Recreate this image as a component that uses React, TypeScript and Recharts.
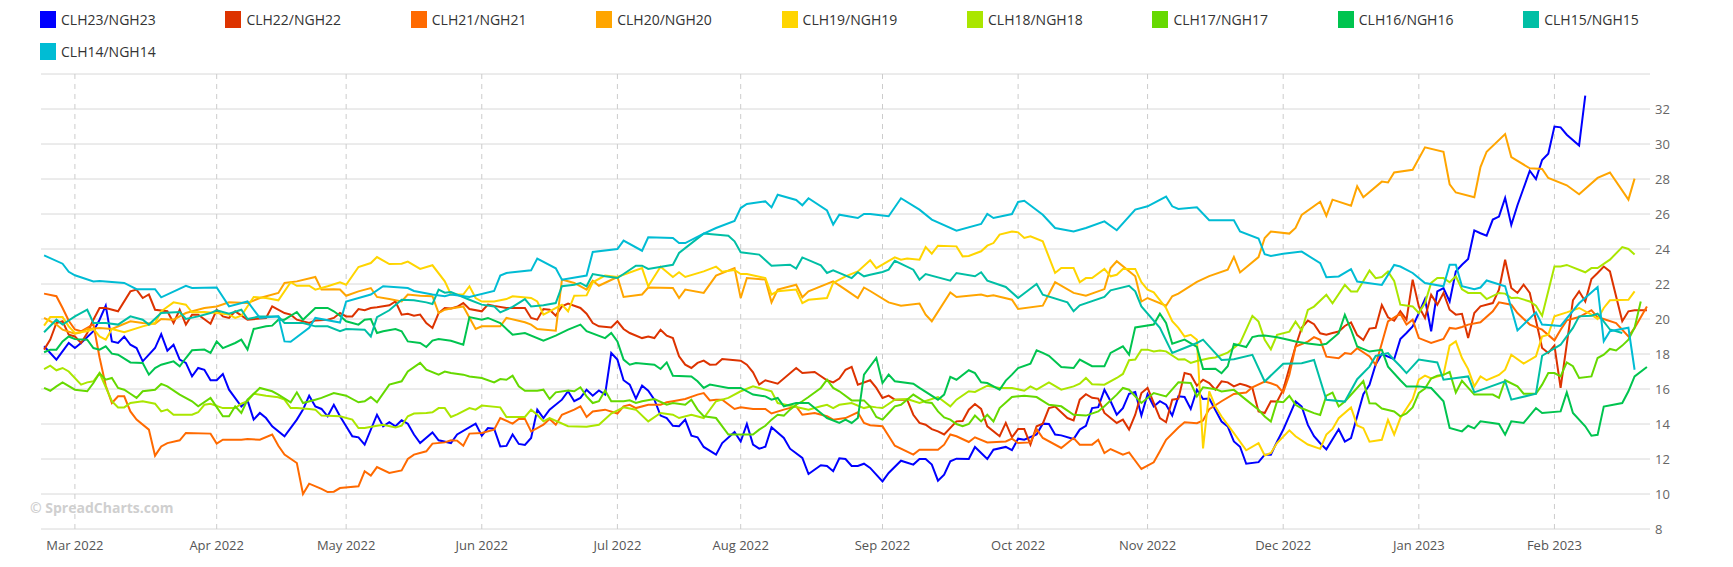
import React from 'react'
import { LineChart, Line, XAxis, YAxis, CartesianGrid } from 'recharts'

type Pt = [number, number]

// x = trading-day index, Mar 1 2022 = 0
const X_DOMAIN: [number, number] = [-5.5, 255.5]
const MONTH_TICKS = [0, 23, 44, 66, 88, 108, 131, 153, 174, 196, 218, 240]
const MONTH_LABELS = ['Mar 2022', 'Apr 2022', 'May 2022', 'Jun 2022', 'Jul 2022', 'Aug 2022', 'Sep 2022', 'Oct 2022', 'Nov 2022', 'Dec 2022', 'Jan 2023', 'Feb 2023']
const Y_TICKS = [8, 10, 12, 14, 16, 18, 20, 22, 24, 26, 28, 30, 32, 34]

const clh23: Pt[] = [[-5,18.44],[-3,17.68],[-1,18.63],[0,18.34],[1,18.63],[3,19.3],[4,19.96],[5,20.76],[6,18.72],[7,18.63],[8,19.0],[9,18.53],[10,18.34],[11,17.58],[13,18.34],[14,19.14],[15,18.19],[16,18.53],[17,17.68],[18,17.49],[19,16.72],[20,17.2],[21,17.1],[22,16.5],[23,16.5],[24,16.86],[25,15.96],[27,15.0],[28,15.35],[29,14.25],[30,14.63],[31,14.34],[32,13.87],[34,13.3],[36,14.25],[37,14.82],[38,15.62],[39,15.0],[40,14.86],[41,14.44],[42,15.1],[43,14.44],[44,13.87],[45,13.3],[46,13.24],[47,12.82],[49,14.53],[50,13.87],[51,14.1],[52,13.87],[53,14.21],[54,14.02],[55,13.4],[56,12.91],[58,13.52],[59,13.07],[61,12.91],[62,13.4],[65,14.02],[66,13.33],[67,13.77],[68,13.73],[69,12.72],[70,12.75],[71,13.4],[72,12.86],[73,12.8],[74,13.2],[75,14.82],[76,14.34],[77,14.82],[79,15.39],[80,15.87],[81,15.3],[82,15.49],[83,15.96],[84,15.62],[85,15.92],[86,15.68],[87,18.06],[88,17.68],[89,16.5],[90,16.25],[91,15.45],[92,16.2],[93,15.9],[94,15.39],[95,14.48],[96,14.34],[97,13.9],[98,13.87],[99,14.25],[100,13.33],[101,13.24],[102,12.69],[104,12.25],[105,12.91],[107,13.54],[108,13.0],[109,14.0],[110,12.82],[111,12.59],[112,12.7],[113,13.81],[115,13.2],[116,12.59],[118,12.06],[119,11.14],[121,11.64],[122,11.6],[123,11.3],[124,12.04],[125,12.0],[126,11.6],[127,11.6],[128,11.73],[129,11.49],[131,10.72],[132,11.2],[134,11.9],[136,11.68],[137,12.0],[138,12.0],[139,11.68],[140,10.76],[141,11.1],[142,11.87],[143,12.02],[145,12.0],[146,12.69],[148,12.0],[149,12.53],[151,12.69],[152,12.5],[153,13.16],[154,13.1],[156,13.4],[157,14.02],[158,14.0],[159,13.4],[160,13.35],[162,13.14],[163,13.68],[164,13.9],[165,14.91],[166,14.96],[167,15.96],[168,15.3],[169,14.53],[170,14.91],[171,15.73],[172,15.83],[173,14.48],[174,15.7],[175,15.0],[176,15.3],[177,15.1],[178,14.48],[179,15.58],[180,15.54],[181,14.86],[182,15.96],[183,15.43],[184,15.45],[186,14.14],[187,13.86],[188,13.0],[189,12.7],[190,11.73],[192,11.82],[193,12.25],[194,12.25],[195,12.99],[196,13.67],[198,15.29],[199,15.0],[200,13.95],[201,13.3],[202,12.9],[203,12.55],[205,13.7],[206,13.0],[207,13.2],[208,14.44],[209,15.7],[210,16.24],[211,17.4],[212,18.0],[214,17.7],[215,18.85],[216,19.2],[217,19.58],[218,20.34],[219,21.14],[220,19.3],[221,21.58],[222,21.77],[223,21.0],[224,22.72],[225,23.1],[226,23.43],[227,25.06],[228,24.9],[229,24.76],[230,25.68],[231,25.85],[232,26.92],[233,25.37],[234,26.5],[236,28.47],[237,27.99],[238,29.09],[239,29.44],[240,31.0],[241,30.95],[242,30.53],[244,29.91],[245,32.76]]

const clh22: Pt[] = [[-5,18.25],[-4,18.82],[-3,19.77],[-2,19.87],[-1,19.1],[0,19.0],[1,18.63],[2,19.2],[3,19.96],[4,20.63],[5,20.63],[7,20.44],[9,21.58],[10,21.68],[11,21.2],[12,21.4],[13,20.53],[15,20.44],[16,19.77],[17,20.53],[18,19.68],[19,20.25],[20,20.25],[22,19.73],[23,20.53],[24,20.15],[25,20.06],[26,20.44],[28,19.96],[31,20.06],[32,20.72],[34,20.34],[35,20.25],[36,19.96],[38,19.77],[39,19.92],[41,19.96],[42,20.06],[43,20.34],[44,20.15],[45,20.15],[46,20.57],[47,20.5],[48,20.63],[49,20.67],[51,20.78],[52,21.0],[53,20.25],[54,20.3],[55,20.19],[56,20.25],[57,19.77],[58,19.49],[59,20.34],[60,20.63],[61,20.6],[62,20.7],[63,20.91],[64,20.57],[66,20.44],[67,20.82],[68,20.75],[70,20.63],[73,20.63],[74,20.06],[75,19.96],[76,20.57],[77,20.53],[78,20.19],[79,20.72],[80,20.88],[82,20.63],[83,20.3],[84,19.77],[85,19.58],[87,19.52],[88,19.87],[89,19.43],[90,19.2],[92,18.91],[93,19.0],[94,18.91],[95,19.39],[96,19.05],[97,18.91],[98,17.87],[99,17.39],[100,17.2],[101,17.49],[102,17.62],[103,17.39],[104,17.4],[105,17.71],[108,17.62],[109,17.39],[110,16.95],[111,16.25],[112,16.5],[114,16.3],[117,17.2],[118,16.91],[120,16.97],[122,16.5],[123,16.38],[124,16.6],[125,17.1],[126,17.26],[127,16.25],[129,16.5],[130,16.06],[131,15.49],[132,15.62],[133,15.39],[135,15.39],[136,14.53],[137,14.06],[138,13.96],[139,13.71],[140,13.58],[141,13.4],[143,14.15],[144,14.17],[145,14.82],[146,15.14],[147,14.86],[148,13.87],[150,13.3],[151,14.06],[152,13.24],[153,13.71],[154,13.71],[155,12.82],[156,13.87],[157,14.02],[158,14.91],[159,15.0],[161,14.34],[162,14.21],[163,15.39],[164,15.7],[165,15.5],[166,15.45],[167,14.63],[168,14.34],[169,14.06],[170,14.25],[171,13.68],[172,14.53],[173,15.77],[174,16.06],[175,15.2],[176,14.34],[177,14.1],[178,15.39],[179,15.45],[180,16.91],[181,16.82],[182,16.19],[183,16.53],[184,16.34],[185,15.96],[186,16.44],[187,16.38],[188,16.15],[189,16.3],[190,16.2],[191,16.06],[192,14.72],[193,14.63],[194,15.3],[195,15.28],[196,15.96],[197,17.2],[198,18.43],[199,19.5],[200,19.91],[201,19.7],[202,19.18],[203,19.1],[204,19.2],[205,19.28],[206,19.6],[207,19.8],[208,19.08],[209,18.8],[210,19.45],[211,19.5],[212,20.8],[213,20.1],[214,19.9],[215,20.44],[216,19.96],[217,22.25],[218,20.72],[219,20.06],[220,21.39],[221,20.82],[222,21.49],[223,20.53],[224,20.25],[225,20.3],[226,18.91],[227,20.34],[228,20.72],[230,20.91],[231,21.68],[232,23.39],[233,21.77],[234,21.49],[235,21.96],[236,21.49],[238,18.34],[239,18.06],[240,18.48],[241,16.06],[243,21.07],[244,21.58],[245,21.0],[246,22.29],[247,22.63],[248,23.0],[249,22.72],[251,19.87],[252,20.44],[253,20.5],[255,20.5]]

const clh21: Pt[] = [[-5,21.45],[-3,21.3],[-2,20.63],[-1,19.9],[0,19.4],[1,19.3],[2,19.5],[3,19.7],[4,17.8],[5,16.2],[6,15.2],[7,15.58],[8,15.58],[9,14.72],[10,14.25],[12,13.68],[13,12.19],[14,12.72],[15,12.91],[17,13.07],[18,13.49],[22,13.45],[23,12.88],[24,13.1],[27,13.1],[28,13.14],[30,13.1],[32,13.4],[33,12.76],[34,12.25],[36,11.77],[37,10.0],[38,10.59],[40,10.29],[41,10.11],[42,10.13],[43,10.34],[46,10.44],[47,11.3],[48,11.05],[49,11.54],[51,11.2],[53,11.35],[54,12.0],[55,12.25],[57,12.44],[58,12.88],[60,12.95],[61,13.07],[62,13.05],[63,12.76],[64,13.45],[66,13.49],[68,13.68],[69,14.34],[71,14.02],[72,14.29],[73,14.29],[74,13.58],[75,13.77],[76,13.96],[77,14.29],[78,13.96],[79,14.53],[81,14.82],[82,15.01],[83,14.4],[84,14.72],[86,14.82],[88,14.6],[89,15.01],[90,15.1],[91,14.91],[93,15.1],[95,15.1],[96,15.24],[97,15.3],[99,15.43],[101,15.68],[102,15.77],[103,15.35],[104,15.39],[105,15.39],[107,14.86],[108,14.95],[110,14.86],[112,14.86],[113,14.6],[115,14.82],[117,15.01],[118,14.53],[120,14.63],[122,14.44],[123,14.25],[125,14.34],[127,14.67],[128,14.06],[129,13.93],[131,13.87],[133,12.76],[136,12.25],[137,12.53],[140,12.53],[141,12.82],[142,13.4],[143,13.3],[145,12.97],[146,13.24],[148,12.95],[151,13.0],[152,13.16],[153,12.91],[155,12.95],[156,13.71],[157,13.2],[160,12.63],[162,13.2],[163,12.82],[165,12.82],[166,13.1],[167,12.34],[168,12.57],[170,12.25],[171,12.38],[173,11.43],[175,11.81],[176,12.44],[177,13.1],[179,13.8],[180,14.1],[182,14.05],[183,14.2],[184,14.85],[186,15.3],[188,15.72],[190,15.8],[191,16.1],[193,16.43],[194,16.33],[195,16.2],[196,15.8],[197,16.81],[198,18.43],[200,18.71],[201,18.96],[202,18.81],[203,17.85],[205,17.76],[206,18.05],[207,18.0],[208,18.33],[210,17.86],[211,17.38],[212,18.62],[213,19.86],[215,20.3],[216,19.68],[217,19.96],[218,18.91],[220,18.63],[222,18.86],[223,19.49],[224,19.45],[225,19.54],[226,19.68],[228,19.81],[230,20.44],[231,20.95],[233,20.82],[234,20.34],[236,19.68],[238,19.39],[240,18.78],[241,19.39],[242,19.92],[244,20.11],[246,20.5],[247,20.11],[250,19.77],[252,19.0],[253,19.49],[255,20.72]]

const clh20: Pt[] = [[-5,20.06],[-3,19.68],[-2,19.39],[0,19.16],[1,19.24],[2,19.43],[4,19.49],[6,19.43],[9,19.87],[11,19.77],[13,19.73],[14,20.0],[16,19.96],[18,20.34],[21,20.63],[23,20.72],[25,20.95],[28,20.91],[30,21.2],[33,21.49],[34,22.06],[36,22.15],[39,22.4],[40,21.68],[42,21.7],[43,21.68],[44,21.33],[46,21.58],[48,21.77],[49,21.26],[51,21.14],[53,21.0],[54,21.4],[56,21.33],[58,21.3],[59,20.34],[60,20.53],[61,20.6],[63,20.72],[65,19.43],[66,19.58],[69,19.58],[70,20.06],[73,19.81],[74,19.68],[75,19.43],[78,19.33],[79,22.25],[81,22.06],[83,21.68],[84,22.19],[85,21.9],[88,22.4],[89,21.26],[92,21.4],[93,21.8],[97,21.77],[98,21.2],[99,21.68],[102,21.49],[104,22.48],[107,22.91],[108,21.2],[109,22.34],[112,22.25],[113,20.95],[114,21.68],[117,21.96],[118,21.24],[119,21.58],[123,22.15],[125,21.68],[127,21.2],[128,21.8],[129,21.6],[132,20.95],[134,20.76],[137,20.88],[138,20.25],[139,19.87],[142,21.52],[143,21.26],[147,21.4],[148,21.3],[149,21.35],[152,21.1],[153,20.57],[157,20.76],[159,22.1],[162,21.49],[164,21.33],[167,21.71],[168,22.91],[169,23.3],[172,22.44],[173,21.0],[174,21.2],[177,20.76],[178,21.3],[179,21.45],[182,22.12],[184,22.45],[187,22.82],[188,23.55],[189,22.66],[192,23.54],[193,24.63],[194,25.0],[197,24.88],[198,25.2],[199,25.95],[202,26.7],[203,25.9],[204,26.82],[207,26.47],[208,27.58],[209,26.96],[212,27.85],[213,27.8],[214,28.37],[217,28.53],[219,29.81],[222,29.56],[223,27.7],[224,27.23],[227,26.96],[228,28.68],[229,29.56],[232,30.57],[233,29.25],[236,28.61],[238,28.57],[239,28.06],[242,27.64],[244,27.13],[247,28.06],[249,28.37],[252,26.82],[253,28.02]]

const clh19: Pt[] = [[-5,19.62],[-4,20.11],[-2,20.11],[-1,19.58],[0,19.2],[2,19.3],[3,19.43],[4,19.0],[5,18.82],[6,19.43],[8,19.24],[11,19.58],[13,19.77],[14,20.44],[16,20.95],[18,20.82],[19,20.38],[21,20.4],[23,20.34],[25,20.25],[26,20.06],[27,20.19],[29,21.26],[31,21.2],[33,21.07],[35,22.1],[36,21.9],[38,21.9],[39,21.68],[41,21.87],[43,22.1],[44,21.96],[46,22.97],[48,23.2],[49,23.54],[51,23.14],[53,23.16],[54,23.28],[56,22.86],[58,23.07],[60,22.15],[61,21.4],[63,21.4],[64,21.87],[65,21.2],[66,21.0],[68,21.0],[70,21.14],[71,21.3],[74,21.2],[75,21.0],[76,20.25],[77,20.44],[79,20.82],[80,20.44],[81,21.33],[83,21.35],[84,22.1],[86,22.48],[88,22.4],[92,22.91],[93,21.87],[95,22.99],[97,22.4],[98,22.67],[99,22.4],[102,22.72],[104,22.99],[105,22.7],[107,22.8],[108,22.57],[109,22.57],[112,22.34],[113,21.4],[114,21.58],[117,21.68],[118,20.91],[119,21.1],[122,21.2],[123,22.06],[125,22.44],[127,22.72],[129,23.36],[130,22.91],[133,23.52],[134,23.39],[135,23.45],[137,23.39],[138,24.11],[139,23.73],[140,24.19],[143,24.15],[144,23.58],[145,23.6],[147,23.87],[148,24.19],[149,24.34],[150,24.82],[152,25.0],[153,24.95],[154,24.63],[155,24.72],[157,24.44],[159,22.63],[160,22.91],[162,22.91],[163,22.1],[164,22.34],[165,22.34],[167,22.86],[168,22.44],[169,22.53],[170,22.86],[172,22.86],[173,22.1],[174,21.68],[175,21.52],[177,20.63],[178,19.87],[179,19.49],[180,19.0],[181,19.1],[182,18.81],[183,12.6],[184,15.86],[185,15.0],[186,14.43],[188,13.48],[190,12.5],[192,12.9],[193,12.2],[194,12.34],[195,12.91],[197,13.64],[198,13.3],[200,12.83],[202,12.58],[203,13.4],[204,13.72],[205,14.33],[207,14.95],[208,13.92],[209,13.76],[210,12.99],[212,13.1],[213,14.23],[214,13.4],[215,14.34],[217,15.43],[218,16.53],[219,16.76],[220,16.6],[222,16.82],[223,18.48],[224,18.72],[225,17.77],[226,17.14],[227,16.15],[228,16.72],[229,16.5],[231,16.8],[232,17.1],[233,17.96],[235,17.45],[237,17.87],[238,19.0],[239,19.1],[240,20.15],[242,20.38],[244,20.63],[246,20.25],[247,20.0],[248,20.63],[249,21.07],[252,21.1],[253,21.58]]

const clh18: Pt[] = [[-5,17.14],[-4,17.33],[-3,17.07],[-2,17.2],[-1,17.0],[1,16.25],[2,16.38],[3,16.44],[4,16.91],[6,15.3],[7,14.95],[8,14.95],[9,15.2],[11,15.3],[13,15.16],[14,14.72],[15,14.82],[16,14.53],[19,14.53],[20,14.67],[21,15.1],[22,15.16],[24,14.91],[26,14.91],[27,15.16],[28,15.3],[29,15.73],[31,15.62],[33,15.53],[34,15.39],[35,14.91],[36,14.91],[38,14.86],[39,14.82],[40,14.48],[43,14.44],[45,14.25],[46,13.77],[47,13.77],[49,13.9],[50,13.96],[52,13.8],[53,13.9],[54,14.44],[55,14.6],[57,14.63],[58,14.67],[59,14.91],[60,14.91],[61,14.4],[62,14.55],[64,14.91],[65,14.82],[66,15.05],[69,14.95],[70,14.4],[73,14.4],[74,14.82],[75,14.53],[76,14.15],[77,14.34],[80,13.87],[83,13.84],[85,13.96],[87,14.6],[89,14.95],[91,14.82],[93,14.15],[95,14.63],[97,14.53],[98,14.34],[100,14.53],[102,14.34],[104,15.3],[106,15.49],[108,15.87],[110,16.15],[111,16.06],[113,15.87],[114,15.2],[117,14.97],[119,14.82],[121,15.01],[122,15.1],[123,14.91],[124,15.1],[126,15.2],[128,14.91],[129,15.0],[130,14.95],[131,14.91],[133,15.39],[135,15.43],[137,15.2],[140,15.54],[142,15.01],[143,15.39],[145,15.87],[146,15.83],[148,16.19],[150,16.06],[152,16.06],[154,15.9],[155,16.15],[156,15.96],[158,16.38],[160,15.96],[162,16.15],[163,16.3],[164,16.63],[165,16.27],[167,16.25],[169,16.63],[170,16.86],[171,17.64],[172,17.68],[173,18.25],[174,18.25],[175,18.15],[176,18.2],[177,18.15],[179,17.68],[180,17.7],[181,17.49],[182,17.6],[184,17.76],[185,17.8],[187,18.08],[189,18.62],[191,20.18],[192,19.85],[193,18.81],[194,18.27],[195,19.1],[197,19.28],[198,19.85],[199,19.33],[200,20.52],[201,20.71],[203,21.38],[204,20.9],[206,21.95],[207,21.57],[208,21.57],[210,22.77],[211,22.33],[212,22.4],[213,22.71],[214,22.18],[215,20.82],[217,20.72],[218,20.34],[219,20.91],[220,22.06],[221,22.34],[222,22.34],[223,22.1],[224,22.44],[225,21.7],[226,21.49],[228,21.49],[229,21.14],[231,21.49],[232,21.45],[233,21.2],[234,21.22],[236,21.0],[237,20.76],[238,20.19],[240,23.0],[241,23.0],[242,23.09],[245,22.67],[246,22.91],[247,22.91],[249,23.39],[251,24.11],[252,24.0],[253,23.68]]

const clh17: Pt[] = [[-5,16.06],[-4,15.9],[-3,16.15],[-2,16.38],[0,15.96],[2,15.87],[3,16.34],[4,16.91],[5,16.53],[6,16.63],[7,16.06],[8,15.96],[9,15.73],[10,15.49],[11,15.87],[13,15.96],[14,16.29],[15,16.15],[17,15.68],[19,15.3],[20,15.01],[22,15.49],[24,14.44],[25,14.44],[26,15.01],[27,14.63],[28,15.39],[30,16.06],[32,15.87],[33,15.68],[35,15.24],[36,15.81],[37,15.2],[39,15.39],[40,15.49],[42,15.77],[44,15.62],[46,15.24],[47,15.3],[48,15.54],[49,15.24],[51,16.25],[53,16.44],[54,17.0],[56,17.49],[57,17.1],[59,16.82],[60,17.0],[61,16.91],[63,16.82],[64,16.72],[66,16.63],[68,16.38],[69,16.57],[70,16.53],[71,16.76],[72,16.15],[73,15.9],[75,15.9],[76,15.96],[77,15.43],[78,15.81],[80,15.92],[81,15.87],[82,16.1],[83,15.58],[84,15.2],[85,15.3],[86,15.92],[87,15.3],[89,15.3],[90,15.35],[91,15.2],[92,15.3],[94,15.43],[96,15.1],[97,15.2],[99,15.1],[100,15.39],[101,14.82],[102,14.44],[104,14.34],[106,13.4],[108,13.4],[110,13.4],[111,13.68],[112,13.9],[113,14.25],[114,14.53],[115,14.48],[116,14.82],[117,15.1],[118,15.3],[119,15.54],[121,16.06],[122,16.53],[123,16.06],[124,15.87],[126,15.35],[128,15.35],[129,15.0],[130,14.4],[131,14.25],[132,14.63],[133,15.01],[134,15.1],[136,15.68],[138,15.24],[139,15.2],[140,14.72],[141,14.38],[142,14.25],[143,14.0],[144,13.87],[145,14.0],[146,14.48],[147,14.15],[148,14.53],[149,14.15],[150,14.91],[152,15.54],[154,15.62],[156,15.54],[158,15.1],[160,15.01],[162,14.53],[164,14.48],[166,14.72],[167,15.01],[169,15.68],[170,16.06],[171,15.96],[173,15.2],[175,15.77],[177,15.58],[179,16.38],[181,16.34],[182,15.57],[183,16.1],[185,15.99],[186,15.86],[188,15.95],[190,15.38],[192,14.81],[193,14.43],[194,14.14],[195,15.29],[196,15.25],[197,15.61],[198,15.1],[199,14.9],[201,14.62],[202,14.52],[203,15.62],[204,15.79],[205,15.0],[206,15.29],[207,15.67],[209,16.45],[210,15.18],[211,15.17],[212,14.88],[213,14.8],[214,14.72],[215,14.44],[216,14.6],[217,14.95],[218,15.78],[219,16.03],[220,16.6],[221,16.76],[222,16.81],[223,16.98],[224,15.8],[225,16.47],[227,15.68],[228,15.68],[230,15.68],[231,15.49],[232,16.5],[234,16.15],[235,15.73],[237,15.73],[238,16.25],[239,16.91],[240,16.91],[241,16.72],[242,17.52],[243,17.3],[244,16.63],[246,16.72],[247,17.77],[248,17.96],[249,18.29],[250,18.2],[251,18.48],[252,18.82],[253,19.5],[254,21.0]]

const clh16: Pt[] = [[-5,18.1],[-4,18.25],[-3,18.25],[-2,18.72],[-1,19.0],[0,18.85],[2,18.82],[3,18.34],[4,18.25],[5,18.44],[6,18.02],[7,17.96],[9,17.52],[11,17.49],[12,16.82],[13,17.2],[14,17.39],[16,17.58],[17,17.3],[18,17.77],[19,18.21],[21,18.25],[22,18.06],[23,18.72],[24,18.34],[26,18.63],[27,18.82],[28,18.25],[29,19.43],[31,19.58],[32,19.62],[33,19.96],[34,19.96],[36,20.4],[37,19.96],[39,20.63],[41,20.63],[42,20.44],[43,20.19],[44,19.87],[46,19.68],[47,19.96],[48,20.0],[49,19.2],[50,19.3],[52,19.43],[53,19.3],[54,18.72],[56,18.63],[57,18.4],[58,18.77],[59,18.86],[61,18.76],[63,18.53],[64,20.11],[66,19.96],[67,20.06],[69,19.77],[71,19.1],[73,19.2],[76,18.76],[78,19.05],[80,19.39],[82,19.68],[83,19.3],[86,18.91],[87,19.2],[88,18.72],[89,17.68],[90,17.39],[91,17.49],[94,17.39],[95,17.14],[96,17.52],[97,16.76],[100,16.72],[101,16.44],[102,16.06],[103,16.25],[106,16.06],[108,16.06],[110,15.68],[112,15.58],[113,15.39],[114,15.49],[115,15.01],[117,15.2],[119,15.2],[121,14.63],[122,14.34],[124,14.06],[125,14.25],[126,14.06],[127,14.34],[128,16.82],[130,17.77],[131,16.34],[132,16.82],[133,16.44],[136,16.3],[137,16.06],[140,15.39],[141,15.68],[142,16.69],[143,16.53],[145,17.07],[146,16.91],[147,16.38],[148,16.34],[150,15.96],[151,16.48],[152,16.82],[153,17.2],[155,17.45],[156,18.21],[157,18.06],[158,17.9],[160,17.26],[162,17.2],[163,17.68],[165,17.3],[167,17.3],[168,18.06],[170,18.44],[171,17.96],[172,19.52],[175,19.68],[176,20.3],[177,19.77],[178,18.59],[180,18.82],[182,18.4],[183,17.15],[185,17.16],[186,16.9],[187,17.3],[188,18.58],[190,18.4],[191,18.97],[192,19.04],[193,19.05],[195,18.96],[197,18.8],[198,18.71],[200,18.6],[202,18.52],[203,18.58],[205,19.19],[206,20.24],[207,19.4],[208,18.43],[210,18.14],[212,18.24],[213,17.28],[215,16.5],[216,16.15],[218,16.15],[220,16.06],[222,15.3],[223,13.77],[225,13.58],[226,13.9],[227,13.75],[228,14.15],[231,14.0],[232,13.39],[233,14.15],[235,14.06],[237,14.91],[238,14.63],[241,14.72],[242,15.81],[243,14.63],[245,13.87],[246,13.33],[247,13.38],[248,15.0],[251,15.2],[252,15.87],[253,16.72],[255,17.26]]

const clh15: Pt[] = [[-5,19.24],[-3,19.96],[-2,19.68],[0,20.15],[2,20.53],[3,19.77],[5,19.77],[7,19.68],[9,20.15],[11,19.96],[12,19.68],[14,20.34],[17,20.4],[18,20.0],[20,20.15],[22,20.34],[23,20.5],[25,20.3],[27,20.53],[28,20.0],[30,20.15],[33,20.15],[34,19.77],[37,19.77],[39,19.58],[41,19.58],[43,19.3],[44,19.43],[47,19.39],[48,19.0],[49,20.1],[51,20.5],[53,21.1],[55,21.07],[57,20.95],[58,20.86],[59,21.68],[60,21.5],[61,21.54],[64,21.1],[66,20.82],[68,20.72],[69,20.38],[71,20.69],[73,21.14],[74,20.72],[76,20.78],[78,20.91],[79,21.87],[81,21.96],[82,22.06],[83,21.87],[84,22.57],[86,22.44],[88,22.34],[89,22.57],[91,23.05],[92,23.05],[93,22.86],[97,23.1],[98,23.77],[102,24.88],[106,24.76],[107,24.44],[108,23.81],[111,23.68],[113,23.05],[116,23.1],[117,22.88],[118,23.52],[121,23.07],[122,22.63],[123,22.78],[126,22.34],[127,22.67],[128,22.44],[129,22.53],[131,22.69],[132,22.82],[133,23.33],[136,22.82],[137,22.25],[138,22.57],[142,22.19],[143,22.63],[146,22.44],[147,22.67],[148,22.19],[151,21.83],[153,21.2],[156,22.0],[157,21.39],[161,20.95],[162,20.44],[163,20.78],[167,21.26],[168,21.64],[171,21.9],[172,21.58],[173,20.72],[176,19.49],[178,18.06],[180,18.34],[182,18.63],[183,18.82],[186,17.66],[188,17.7],[191,17.95],[193,16.43],[196,17.44],[199,17.47],[201,17.66],[203,15.38],[206,15.28],[208,16.56],[210,17.28],[211,17.89],[213,18.05],[214,17.66],[215,17.3],[216,16.91],[218,17.68],[221,17.52],[222,16.53],[226,16.72],[227,15.81],[232,16.44],[233,15.39],[237,15.73],[238,17.9],[241,18.53],[243,19.49],[244,20.15],[246,20.19],[247,20.3],[249,19.4],[251,19.2]]

const clh14: Pt[] = [[-5,23.64],[-2,23.16],[-1,22.7],[0,22.5],[3,22.15],[4,22.17],[8,22.06],[10,21.7],[13,21.7],[14,21.24],[18,21.9],[19,21.77],[23,21.8],[25,20.72],[28,21.0],[30,20.06],[33,20.15],[34,18.72],[35,18.7],[38,19.5],[39,20.06],[43,19.8],[44,21.0],[48,21.4],[50,21.87],[54,21.77],[55,21.6],[58,21.4],[60,21.3],[61,21.4],[64,21.26],[68,21.6],[69,22.48],[70,22.63],[74,22.78],[75,23.45],[78,22.9],[79,22.25],[83,22.48],[84,23.83],[88,24.0],[89,24.48],[92,23.9],[93,24.67],[97,24.63],[98,24.34],[99,24.34],[102,24.88],[104,25.2],[107,25.6],[108,26.34],[109,26.57],[112,26.72],[113,26.38],[114,27.1],[117,26.8],[118,26.5],[119,26.9],[122,26.2],[123,25.4],[124,25.96],[127,25.77],[128,26.0],[129,26.0],[131,25.92],[132,25.87],[134,26.9],[137,26.25],[139,25.68],[143,25.05],[147,25.43],[148,26.0],[149,25.77],[152,26.0],[153,26.69],[154,26.76],[157,25.96],[159,25.2],[162,25.0],[164,25.2],[167,25.58],[169,25.07],[172,26.25],[174,26.44],[177,27.0],[178,26.44],[179,26.29],[182,26.38],[184,25.64],[188,25.64],[189,25.0],[192,24.6],[193,23.7],[194,23.6],[196,23.73],[199,23.85],[202,23.19],[203,22.39],[205,22.43],[207,22.85],[208,22.14],[212,21.95],[214,23.09],[215,23.0],[217,22.63],[219,22.06],[222,21.87],[223,23.1],[224,23.1],[225,21.87],[227,21.7],[228,21.8],[229,22.2],[232,21.87],[234,19.35],[237,20.38],[238,19.68],[241,19.6],[244,20.9],[247,21.83],[248,18.73],[249,19.3],[252,19.5],[253,17.1]]

const SERIES = [
  { name: 'CLH23/NGH23', color: '#0000ff', data: clh23 },
  { name: 'CLH22/NGH22', color: '#dd3300', data: clh22 },
  { name: 'CLH21/NGH21', color: '#ff6a00', data: clh21 },
  { name: 'CLH20/NGH20', color: '#ffa500', data: clh20 },
  { name: 'CLH19/NGH19', color: '#ffd500', data: clh19 },
  { name: 'CLH18/NGH18', color: '#aae600', data: clh18 },
  { name: 'CLH17/NGH17', color: '#66d900', data: clh17 },
  { name: 'CLH16/NGH16', color: '#00c44f', data: clh16 },
  { name: 'CLH15/NGH15', color: '#00bfa5', data: clh15 },
  { name: 'CLH14/NGH14', color: '#00bcd4', data: clh14 },
]

const FONT = '"Open Sans", sans-serif'

function monthLabel(v: number) {
  const i = MONTH_TICKS.indexOf(v)
  return i >= 0 ? MONTH_LABELS[i] : ''
}

// dashed month lines only at the month ticks (no lines at the plot edges)
function monthGridLines({ xAxis, offset }: any) {
  return MONTH_TICKS.map((t) =>
    xAxis && typeof xAxis.scale === 'function'
      ? xAxis.scale(t)
      : offset.left + ((t - X_DOMAIN[0]) / (X_DOMAIN[1] - X_DOMAIN[0])) * offset.width
  )
}

function ChartLegend() {
  return (
    <>
      {SERIES.map((s, i) => {
        const row = i < 9 ? 0 : 1
        const col = i < 9 ? i : i - 9
        return (
          <div
            key={s.name}
            style={{
              position: 'absolute',
              left: 32 + col * 185.4,
              top: row === 0 ? 3 : 35,
              height: 17,
              display: 'flex',
              alignItems: 'center',
              whiteSpace: 'nowrap',
            }}
          >
            <span style={{ width: 16, height: 17, background: s.color, marginRight: 5 }} />
            <span style={{ fontFamily: FONT, fontSize: 14, color: '#333' }}>{s.name}</span>
          </div>
        )
      })}
    </>
  )
}

export default function App() {
  return (
    <div style={{ position: 'relative', width: 1717, height: 551 }}>
      <LineChart
        width={1717}
        height={551}
        margin={{ top: 66, right: 35, bottom: 6, left: 33 }}
        style={{ position: 'absolute', left: 0, top: 0 }}
      >
        <CartesianGrid vertical={false} stroke="#d8d8d8" />
        <CartesianGrid
          horizontal={false}
          stroke="#cccccc"
          strokeDasharray="5 5"
          verticalCoordinatesGenerator={monthGridLines}
        />
        <XAxis
          type="number"
          dataKey="x"
          domain={X_DOMAIN}
          ticks={MONTH_TICKS}
          tickFormatter={monthLabel}
          allowDataOverflow
          axisLine={false}
          tickLine={false}
          tickSize={0}
          tickMargin={12}
          height={24}
          interval={0}
          tick={{ fontSize: 13, fill: '#555', fontFamily: FONT }}
        />
        <YAxis
          orientation="right"
          type="number"
          domain={[8, 34]}
          ticks={Y_TICKS}
          tickFormatter={(v: number) => (v === 34 ? '' : String(v))}
          allowDataOverflow
          axisLine={false}
          tickLine={false}
          tickSize={0}
          tickMargin={5}
          width={40}
          interval={0}
          tick={{ fontSize: 13, fill: '#666', fontFamily: FONT, textAnchor: 'start' }}
        />
        {SERIES.map((s) => (
          <Line
            key={s.name}
            data={s.data.map(([x, v]) => ({ x, v }))}
            dataKey="v"
            type="linear"
            stroke={s.color}
            strokeWidth={2}
            dot={false}
            activeDot={false}
            isAnimationActive={false}
          />
        ))}
      </LineChart>
      <ChartLegend />
      <div
        style={{
          position: 'absolute',
          left: 22,
          top: 493,
          fontFamily: FONT,
          fontWeight: 700,
          fontSize: 14,
          lineHeight: '14px',
          color: '#cfcfcf',
        }}
      >
        © SpreadCharts.com
      </div>
    </div>
  )
}
